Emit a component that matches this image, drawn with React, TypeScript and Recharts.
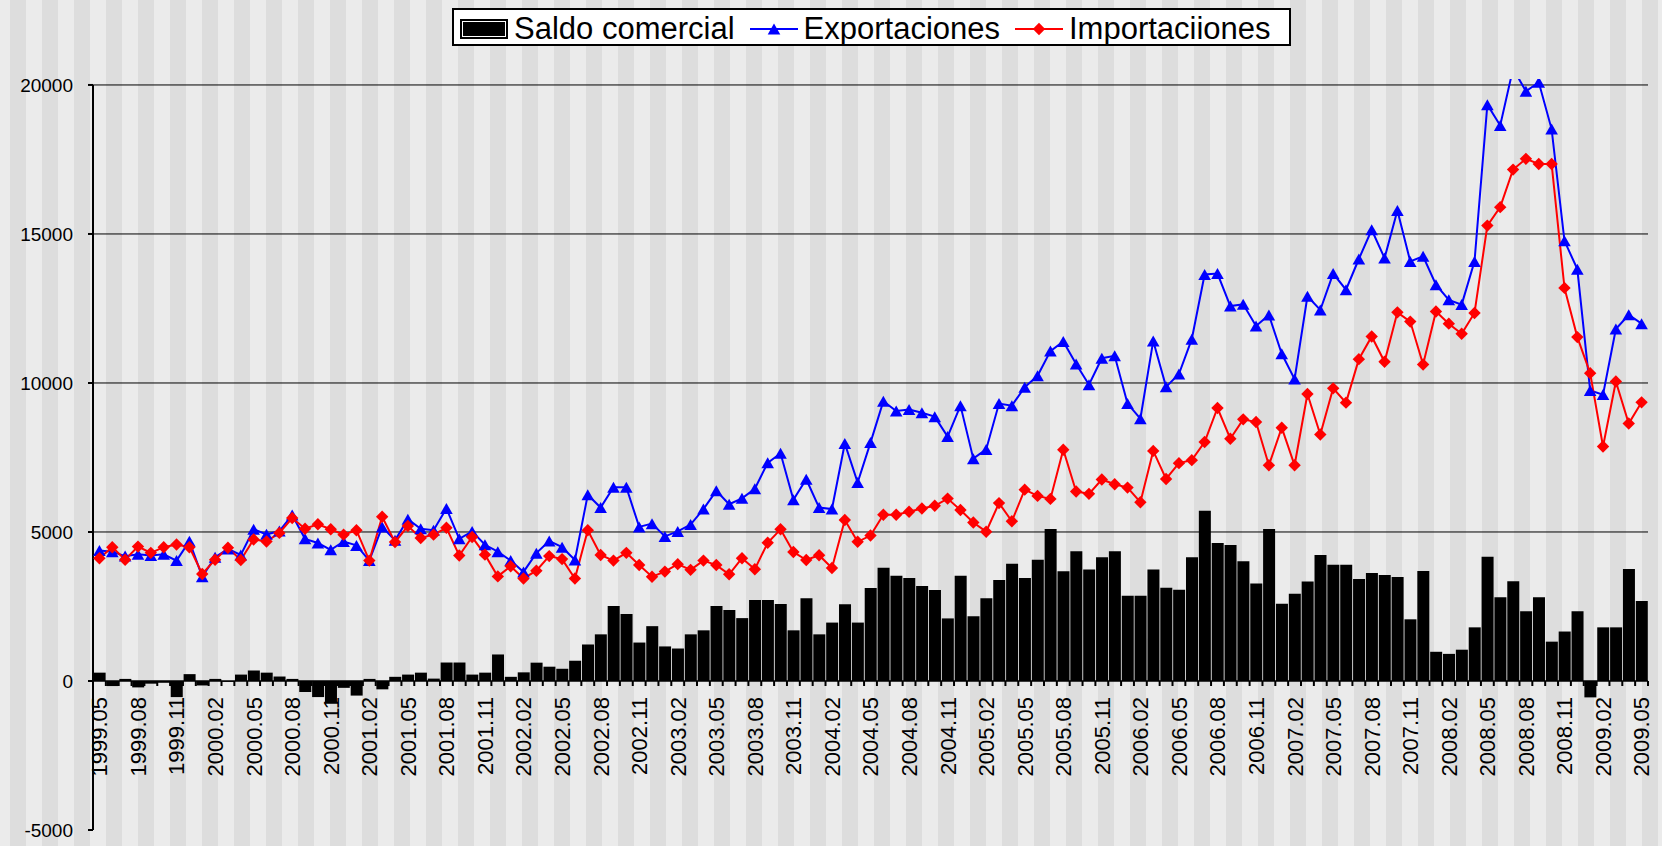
import { Bar, ComposedChart, Legend, Line, ReferenceLine, XAxis, YAxis } from "recharts";

const MONTHS = [
  "1999.05", "1999.06", "1999.07", "1999.08", "1999.09", "1999.10", "1999.11", "1999.12",
  "2000.01", "2000.02", "2000.03", "2000.04", "2000.05", "2000.06", "2000.07", "2000.08", "2000.09", "2000.10", "2000.11", "2000.12",
  "2001.01", "2001.02", "2001.03", "2001.04", "2001.05", "2001.06", "2001.07", "2001.08", "2001.09", "2001.10", "2001.11", "2001.12",
  "2002.01", "2002.02", "2002.03", "2002.04", "2002.05", "2002.06", "2002.07", "2002.08", "2002.09", "2002.10", "2002.11", "2002.12",
  "2003.01", "2003.02", "2003.03", "2003.04", "2003.05", "2003.06", "2003.07", "2003.08", "2003.09", "2003.10", "2003.11", "2003.12",
  "2004.01", "2004.02", "2004.03", "2004.04", "2004.05", "2004.06", "2004.07", "2004.08", "2004.09", "2004.10", "2004.11", "2004.12",
  "2005.01", "2005.02", "2005.03", "2005.04", "2005.05", "2005.06", "2005.07", "2005.08", "2005.09", "2005.10", "2005.11", "2005.12",
  "2006.01", "2006.02", "2006.03", "2006.04", "2006.05", "2006.06", "2006.07", "2006.08", "2006.09", "2006.10", "2006.11", "2006.12",
  "2007.01", "2007.02", "2007.03", "2007.04", "2007.05", "2007.06", "2007.07", "2007.08", "2007.09", "2007.10", "2007.11", "2007.12",
  "2008.01", "2008.02", "2008.03", "2008.04", "2008.05", "2008.06", "2008.07", "2008.08", "2008.09", "2008.10", "2008.11", "2008.12",
  "2009.01", "2009.02", "2009.03", "2009.04", "2009.05",
];

const SALDO = [
  280, -170, 70, -215, -90, -60, -540, 230,
  -150, 70, -30, 215, 350, 280, 150, 70, -370, -540, -720, -230,
  -490, 70, -280, 140, 215, 280, 80, 620, 620, 215, 280, 890,
  140, 290, 615, 480, 410, 680, 1225, 1565, 2520, 2245, 1290, 1840,
  1160, 1090, 1565, 1700, 2520, 2380, 2110, 2720, 2720, 2585, 1700, 2780,
  1565, 1960, 2575, 1960, 3120, 3800, 3530, 3460, 3190, 3050, 2100, 3530,
  2170, 2780, 3390, 3935, 3460, 4070, 5100, 3680, 4350, 3740, 4150, 4350,
  2860, 2860, 3740, 3130, 3065, 4150, 5710, 4630, 4560, 4015, 3270, 5100,
  2590, 2930, 3340, 4230, 3900, 3900, 3420, 3620, 3560, 3490, 2070, 3690,
  980, 910, 1050, 1800, 4170, 2810, 3350, 2340, 2810, 1320, 1660, 2340,
  -550, 1800, 1800, 3760, 2680,
];

const EXPORTACIONES = [
  4380, 4340, 4190, 4250, 4210, 4250, 4040, 4690,
  3500, 4150, 4430, 4230, 5090, 4920, 5030, 5570, 4770, 4630, 4400, 4680,
  4550, 4040, 5170, 4720, 5430, 5110, 5060, 5790, 4770, 5020, 4570, 4340,
  4040, 3660, 4290, 4700, 4490, 4060, 6250, 5820, 6500, 6500, 5170, 5280,
  4850, 5020, 5250, 5770, 6380, 5930, 6130, 6450, 7320, 7640, 6080, 6770,
  5820, 5770, 7970, 6660, 8000, 9390, 9060, 9110, 9000, 8870, 8200, 9240,
  7460, 7770, 9310, 9240, 9860, 10240, 11070, 11390, 10640, 9940, 10830, 10910,
  9310, 8800, 11410, 9870, 10300, 11470, 13640, 13670, 12580, 12640, 11910, 12280,
  10980, 10130, 12910, 12450, 13670, 13130, 14160, 15140, 14190, 15790, 14080, 14250,
  13300, 12790, 12630, 14080, 19340, 18640, 20550, 19790, 20090, 18520, 14770, 13820,
  9750, 9610, 11810, 12290, 11990,
];

const IMPORTACIONES = [
  4120, 4490, 4070, 4510, 4300, 4490, 4580, 4490,
  3590, 4070, 4470, 4060, 4750, 4680, 4970, 5470, 5110, 5260, 5090, 4910,
  5060, 4040, 5510, 4660, 5200, 4800, 4910, 5140, 4210, 4830, 4240, 3510,
  3850, 3440, 3700, 4190, 4090, 3440, 5060, 4230, 4040, 4300, 3890, 3500,
  3670, 3920, 3730, 4040, 3890, 3580, 4120, 3750, 4640, 5090, 4330, 4060,
  4220, 3790, 5400, 4670, 4880, 5580, 5580, 5680, 5790, 5880, 6120, 5740,
  5320, 5010, 5970, 5360, 6420, 6210, 6110, 7760, 6360, 6280, 6760, 6600,
  6490, 6000, 7720, 6780, 7310, 7410, 8020, 9160, 8130, 8780, 8690, 7240,
  8500, 7240, 9630, 8270, 9820, 9340, 10800, 11560, 10710, 12370, 12060, 10620,
  12400, 11990, 11650, 12350, 15280, 15900, 17160, 17520, 17350, 17350, 13190, 11540,
  10330, 7870, 10050, 8640, 9350,
];

const Y_TICKS = [-5000, 0, 5000, 10000, 15000, 20000];
const GRID_VALUES = [5000, 10000, 15000, 20000];
const LEGEND_ORDER = ["saldo", "exp", "imp"];

const W = 1662;
const H = 846;
const MARGIN = { top: 79, right: 14, bottom: 15, left: 0 };
const X_AXIS_H = 1;
const Y_MIN = -5000;
const Y_MAX = 20200;
const PLOT_H = H - MARGIN.top - MARGIN.bottom - X_AXIS_H;
// distance from the bottom of the plot up to the zero line
const ZERO_UP = (PLOT_H * (0 - Y_MIN)) / (Y_MAX - Y_MIN);
const FONT = '"Liberation Sans", Arial, Helvetica, sans-serif';

const data = MONTHS.map((m, i) => ({
  m,
  saldo: SALDO[i],
  exp: EXPORTACIONES[i],
  imp: IMPORTACIONES[i],
}));

const triPath = (cx: number, cy: number) =>
  `M${cx},${cy - 5.5}L${cx + 6.3},${cy + 5.5}L${cx - 6.3},${cy + 5.5}Z`;
const diaPath = (cx: number, cy: number) =>
  `M${cx},${cy - 6.2}L${cx + 6.2},${cy}L${cx},${cy + 6.2}L${cx - 6.2},${cy}Z`;

const renderTri = (p: any) =>
  p.cx == null || p.cy == null ? null : (
    <path key={`t${p.index}`} d={triPath(p.cx, p.cy)} fill="#0000ff" />
  );
const renderDia = (p: any) =>
  p.cx == null || p.cy == null ? null : (
    <path key={`d${p.index}`} d={diaPath(p.cx, p.cy)} fill="#ff0000" />
  );

// zero line doubles as the category axis: ticks sit on the category boundaries
const ZeroAxis = (p: any) => {
  const n = MONTHS.length;
  const step = (p.x2 - p.x1) / n;
  return (
    <g>
      <line x1={p.x1} y1={p.y1} x2={p.x2} y2={p.y2} stroke="#000" strokeWidth={1.5} />
      {Array.from({ length: n + 1 }, (_, k) => (
        <line
          key={k}
          x1={p.x1 + k * step}
          x2={p.x1 + k * step}
          y1={p.y1}
          y2={p.y1 + 5}
          stroke="#000"
          strokeWidth={2}
        />
      ))}
    </g>
  );
};

const renderXTick = ({ x, y, payload }: any) => {
  const ty = y - ZERO_UP + 16;
  return (
    <g transform={`translate(${x} ${ty}) rotate(-90)`}>
      <text
        x={0}
        y={0}
        textAnchor="end"
        dy="0.36em"
        style={{ fontSize: "22px", fontFamily: FONT, fill: "#000" }}
      >
        {payload.value}
      </text>
    </g>
  );
};

const Swatch = ({ kind, color }: { kind: string; color: string }) => (
  <svg width={48} height={20} style={{ display: "block" }}>
    {kind === "saldo" ? (
      <g>
        <rect x={0} y={0} width={48} height={20} fill="#000" />
        <rect x={2.5} y={2.5} width={43} height={15} fill="none" stroke="#fff" strokeWidth={1} />
      </g>
    ) : (
      <g>
        <line x1={0} y1={10} x2={48} y2={10} stroke={color} strokeWidth={2} />
        <path d={kind === "exp" ? triPath(24, 10) : diaPath(24, 10)} fill={color} />
      </g>
    )}
  </svg>
);

const LegendBox = ({ payload }: any) => {
  const items = [...(payload || [])].sort(
    (a: any, b: any) => LEGEND_ORDER.indexOf(a.dataKey) - LEGEND_ORDER.indexOf(b.dataKey)
  );
  return (
    <div
      style={{
        display: "flex",
        alignItems: "center",
        height: 38,
        boxSizing: "border-box",
        border: "2px solid #000",
        background: "#fff",
        paddingLeft: 6,
        paddingTop: 3,
        fontFamily: FONT,
        fontSize: 31,
        lineHeight: 1,
        color: "#000",
        whiteSpace: "nowrap",
      }}
    >
      {items.map((e: any) => (
        <div key={e.dataKey} style={{ display: "flex", alignItems: "center", marginRight: 15 }}>
          <Swatch kind={e.dataKey} color={e.color} />
          <span style={{ marginLeft: 6, marginTop: -1 }}>{e.value}</span>
        </div>
      ))}
    </div>
  );
};

export default function App() {
  return (
    <div
      style={{
        position: "absolute",
        left: 0,
        top: 0,
        width: W,
        height: H,
        background:
          "repeating-linear-gradient(90deg, #ebebeb 0px, #ebebeb 10px, #dddddd 10px, #dddddd 26px, #ebebeb 26px, #ebebeb 32px)",
      }}
    >
      <ComposedChart width={W} height={H} data={data} margin={MARGIN} barCategoryGap="5%">
        <XAxis
          dataKey="m"
          interval={2}
          height={X_AXIS_H}
          axisLine={false}
          tickLine={false}
          tickSize={0}
          tickMargin={0}
          tick={renderXTick}
        />
        <YAxis
          width={93}
          domain={[Y_MIN, Y_MAX]}
          allowDataOverflow
          ticks={Y_TICKS}
          interval={0}
          axisLine={false}
          tickLine={{ stroke: "#000", strokeWidth: 2 }}
          tickSize={5}
          tickMargin={15}
          tick={{ fill: "#000", fontSize: 19, fontFamily: FONT }}
        />
        {GRID_VALUES.map((v) => (
          <ReferenceLine key={v} y={v} stroke="#000" strokeWidth={1} />
        ))}
        <Legend
          layout="horizontal"
          verticalAlign="middle"
          align="center"
          wrapperStyle={{ top: 8, left: 452, width: 839, height: 38 }}
          content={<LegendBox />}
        />
        <Bar dataKey="saldo" name="Saldo comercial" fill="#000" isAnimationActive={false} />
        <ReferenceLine y={0} shape={ZeroAxis} />
        <Line
          type="linear"
          dataKey="exp"
          name="Exportaciones"
          stroke="#0000ff"
          strokeWidth={2}
          dot={renderTri}
          activeDot={false}
          isAnimationActive={false}
        />
        <Line
          type="linear"
          dataKey="imp"
          name="Importaciiones"
          stroke="#ff0000"
          strokeWidth={2}
          dot={renderDia}
          activeDot={false}
          isAnimationActive={false}
        />
        <ReferenceLine
          segment={[
            { x: MONTHS[0], y: 20000 },
            { x: MONTHS[0], y: Y_MIN },
          ]}
          position="start"
          stroke="#000"
          strokeWidth={2}
        />
      </ComposedChart>
    </div>
  );
}
